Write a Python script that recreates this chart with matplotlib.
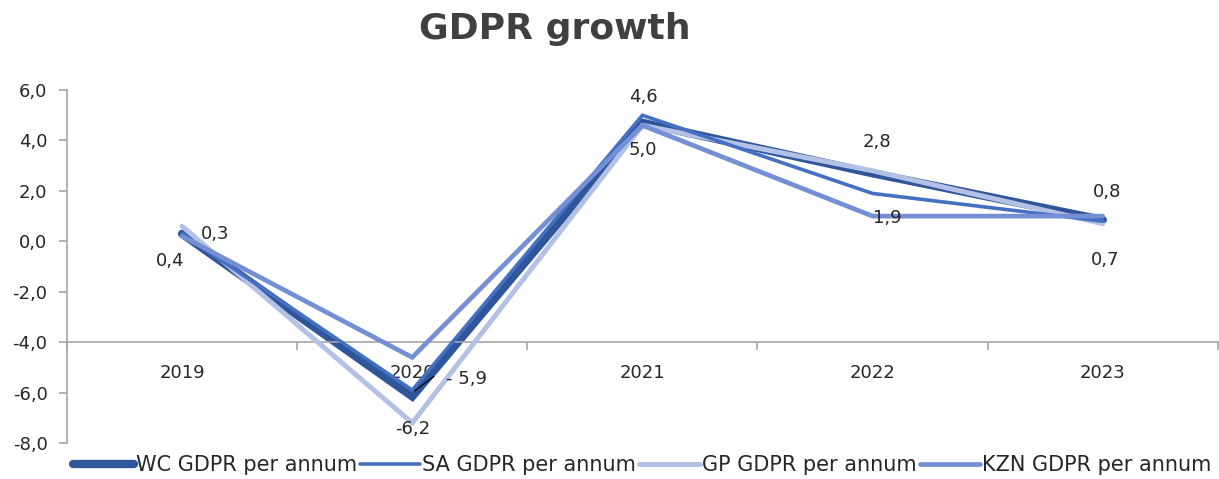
import numpy as np
import matplotlib
matplotlib.use("Agg")
import matplotlib.pyplot as plt

years = ["2019", "2020", "2021", "2022", "2023"]
wc = [0.3, -6.15, 4.7, 2.7, 0.85]
sa = [0.3, -5.9, 5.0, 1.9, 0.8]
gp = [0.6, -7.2, 4.6, 2.8, 0.7]
kzn = [0.2, -4.6, 4.6, 1.0, 1.0]

series_names = ["WC GDPR per annum", "SA GDPR per annum",
                "GP GDPR per annum", "KZN GDPR per annum"]

# data labels: (text, series index, year index, offset in pixels)
data_labels = [
    ("0,4", 0, 0, (-12, -27)),
    ("0,3", 1, 0, (33, 0)),
    ("-6,2", 0, 1, (0, -33)),
    ("- 5,9", 1, 1, (54, 11)),
    ("4,6", 0, 2, (1, 26)),
    ("5,0", 1, 2, (0, -35)),
    ("2,8", 2, 3, (4, 29)),
    ("1,9", 3, 3, (15, -2)),
    ("0,8", 1, 4, (4, 29)),
    ("0,7", 2, 4, (2, -36)),
]

plt.rcParams['font.family'] = ['DejaVu Sans']
text_col = "#262626"

fig = plt.figure(figsize=(12.19, 4.79), dpi=100)
ax = fig.add_axes([0.055, 0.075, 0.944, 0.737])

x = np.arange(len(years))
all_series = [wc, sa, gp, kzn]
styles = [("#2F559B", 6.0), ("#4470C2", 2.6), ("#B3C1E6", 3.6), ("#7390D4", 3.4)]
zorders = [2, 4, 3, 5]
for vals, name, (col, lw), z in zip(all_series, series_names, styles, zorders):
    ax.plot(x, vals, color=col, lw=lw, label=name, zorder=z,
            solid_capstyle="round", solid_joinstyle="miter")

for txt, si, yi, (dx, dy) in data_labels:
    ax.annotate(txt, (x[yi], all_series[si][yi]), xytext=(dx, dy),
                textcoords="offset pixels", ha="center", va="center",
                fontsize=13, color=text_col, zorder=6)
# leader line for "- 5,9"
ax.annotate("", (x[1], sa[1] - 0.1), xytext=(24, 18), textcoords="offset pixels",
            arrowprops=dict(arrowstyle="-", color="black", lw=0.8), zorder=6)

ax.set_xlim(-0.5, len(years) - 0.5)
ax.set_ylim(-8, 6)
ax.set_yticks(np.arange(-8, 6.1, 2))
ax.set_yticklabels([f"{v:.1f}".replace(".", ",") for v in np.arange(-8, 6.1, 2)],
                   fontsize=13, color=text_col)

ax.spines['top'].set_visible(False)
ax.spines['right'].set_visible(False)
ax.spines['bottom'].set_position(('data', -4))
for s in ['left', 'bottom']:
    ax.spines[s].set_color("#A6A6A6")
    ax.spines[s].set_linewidth(1.2)

ax.set_xticks(x)
ax.set_xticklabels(years, fontsize=13, color=text_col)
ax.tick_params(axis='x', which='major', length=0, pad=16)
ax.set_xticks(np.arange(-0.5, len(years), 1), minor=True)
ax.tick_params(axis='x', which='minor', length=6, color="#A6A6A6", width=1.2, direction='out')
ax.tick_params(axis='y', length=6, color="#A6A6A6", width=1.2, pad=8)

fig.text(0.455, 0.94, "GDPR growth", fontsize=26, fontweight="bold", color="#404040",
         ha="center", va="center")

leg = ax.legend(loc="center", bbox_to_anchor=(0.5, -0.063), ncol=4, frameon=False,
                fontsize=15, handlelength=2.9, columnspacing=0.15, handletextpad=0.1,
                labelcolor=text_col, borderpad=0)

fig.savefig("out.png", dpi=100)
